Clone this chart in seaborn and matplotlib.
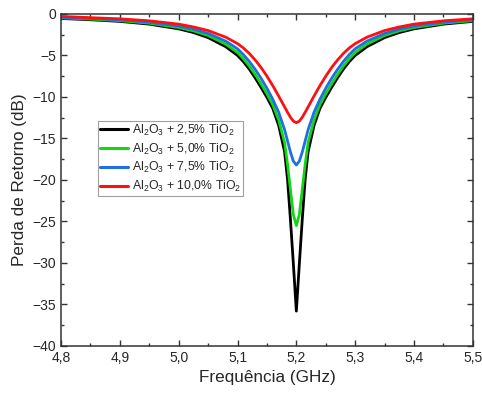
import pandas as pd
import numpy as np
import seaborn as sns
import matplotlib.pyplot as plt
from matplotlib.ticker import MultipleLocator, FuncFormatter

# frequency points (GHz)
freq = [4.80, 4.85, 4.90, 4.95, 5.00, 5.025, 5.05, 5.08, 5.10, 5.11, 5.12, 5.13, 5.14,
        5.15, 5.16, 5.17, 5.18, 5.185, 5.19, 5.195, 5.20, 5.205, 5.21, 5.215, 5.22,
        5.23, 5.24, 5.25, 5.26, 5.27, 5.28, 5.29, 5.30, 5.32, 5.35, 5.375, 5.40, 5.45, 5.50]

# return loss (dB) for each sample
rl_25 = [-0.55, -0.70, -0.90, -1.23, -1.80, -2.24, -2.85, -3.95, -5.00, -5.75, -6.65, -7.70, -8.85,
         -10.05, -11.40, -13.45, -16.60, -19.90, -24.80, -30.20, -35.8, -30.20, -24.80, -19.90, -16.60,
         -13.45, -11.40, -10.05, -8.85, -7.70, -6.65, -5.75, -5.00, -3.95, -2.85, -2.24, -1.80, -1.23, -0.90]
rl_50 = [-0.48, -0.62, -0.81, -1.12, -1.64, -2.04, -2.60, -3.65, -4.65, -5.40, -6.28, -7.30, -8.42,
         -9.62, -10.95, -12.80, -15.50, -18.10, -21.20, -24.20, -25.5, -24.20, -21.20, -18.10, -15.50,
         -12.80, -10.95, -9.62, -8.42, -7.30, -6.28, -5.40, -4.65, -3.65, -2.60, -2.04, -1.64, -1.12, -0.81]
rl_75 = [-0.42, -0.54, -0.72, -1.00, -1.46, -1.83, -2.35, -3.28, -4.20, -4.90, -5.72, -6.68, -7.75,
         -8.95, -10.30, -11.85, -13.95, -15.30, -16.65, -17.75, -18.2, -17.75, -16.65, -15.30, -13.95,
         -11.85, -10.30, -8.95, -7.75, -6.68, -5.72, -4.90, -4.20, -3.28, -2.35, -1.83, -1.46, -1.00, -0.72]
rl_100 = [-0.30, -0.45, -0.59, -0.83, -1.23, -1.57, -2.00, -2.80, -3.58, -4.10, -4.76, -5.55, -6.45,
          -7.50, -8.65, -9.90, -11.20, -11.85, -12.45, -12.92, -13.1, -12.92, -12.45, -11.85, -11.20,
          -9.90, -8.65, -7.50, -6.45, -5.55, -4.76, -4.10, -3.58, -2.80, -2.00, -1.57, -1.23, -0.83, -0.59]

labels = [r'Al$_\mathregular{2}$O$_\mathregular{3}$ + 2,5% TiO$_\mathregular{2}$',
          r'Al$_\mathregular{2}$O$_\mathregular{3}$ + 5,0% TiO$_\mathregular{2}$',
          r'Al$_\mathregular{2}$O$_\mathregular{3}$ + 7,5% TiO$_\mathregular{2}$',
          r'Al$_\mathregular{2}$O$_\mathregular{3}$ + 10,0% TiO$_\mathregular{2}$']
colors = ['#000000', '#12d612', '#1f6fe0', '#ff1010']

df = pd.concat([pd.DataFrame({'f': freq, 'rl': v, 'amostra': lab})
                for v, lab in zip([rl_25, rl_50, rl_75, rl_100], labels)])

sns.set_style("ticks")
plt.rcParams['font.family'] = ['Liberation Sans', 'DejaVu Sans']
plt.rcParams['mathtext.fontset'] = 'custom'
plt.rcParams['mathtext.rm'] = 'Liberation Sans'

fig = plt.figure(figsize=(4.82, 3.98), dpi=100)
ax = fig.add_axes([0.1266, 0.1307, 0.8544, 0.8343])

sns.lineplot(data=df, x='f', y='rl', hue='amostra', palette=colors, linewidth=2.0,
             sort=False, ax=ax)

ax.set_xlim(4.8, 5.5)
ax.set_ylim(-40, 0)
ax.xaxis.set_major_locator(MultipleLocator(0.1))
ax.xaxis.set_minor_locator(MultipleLocator(0.05))
ax.yaxis.set_major_locator(MultipleLocator(5))
ax.yaxis.set_minor_locator(MultipleLocator(2.5))
ax.xaxis.set_major_formatter(FuncFormatter(lambda v, p: f"{v:.1f}".replace('.', ',')))
ax.tick_params(which='both', direction='in', top=True, right=True, labelsize=10, width=1, color='#333333')
ax.tick_params(which='major', length=4)
ax.tick_params(which='minor', length=2.5)
for s in ax.spines.values():
    s.set_linewidth(1.1)
    s.set_color('#333333')

ax.set_xlabel('Frequência (GHz)', fontsize=12.3)
ax.set_ylabel('Perda de Retorno (dB)', fontsize=12.3)

leg = ax.legend(loc='upper left', bbox_to_anchor=(0.09, 0.678), borderaxespad=0, fontsize=8.8,
                frameon=True, fancybox=False, edgecolor='#888888', handlelength=2.3,
                handletextpad=0.3, borderpad=0.15, labelspacing=0.3)
leg.get_frame().set_linewidth(0.8)
for h in leg.get_lines():
    h.set_linewidth(2.2)

fig.savefig('out.png', dpi=100)
